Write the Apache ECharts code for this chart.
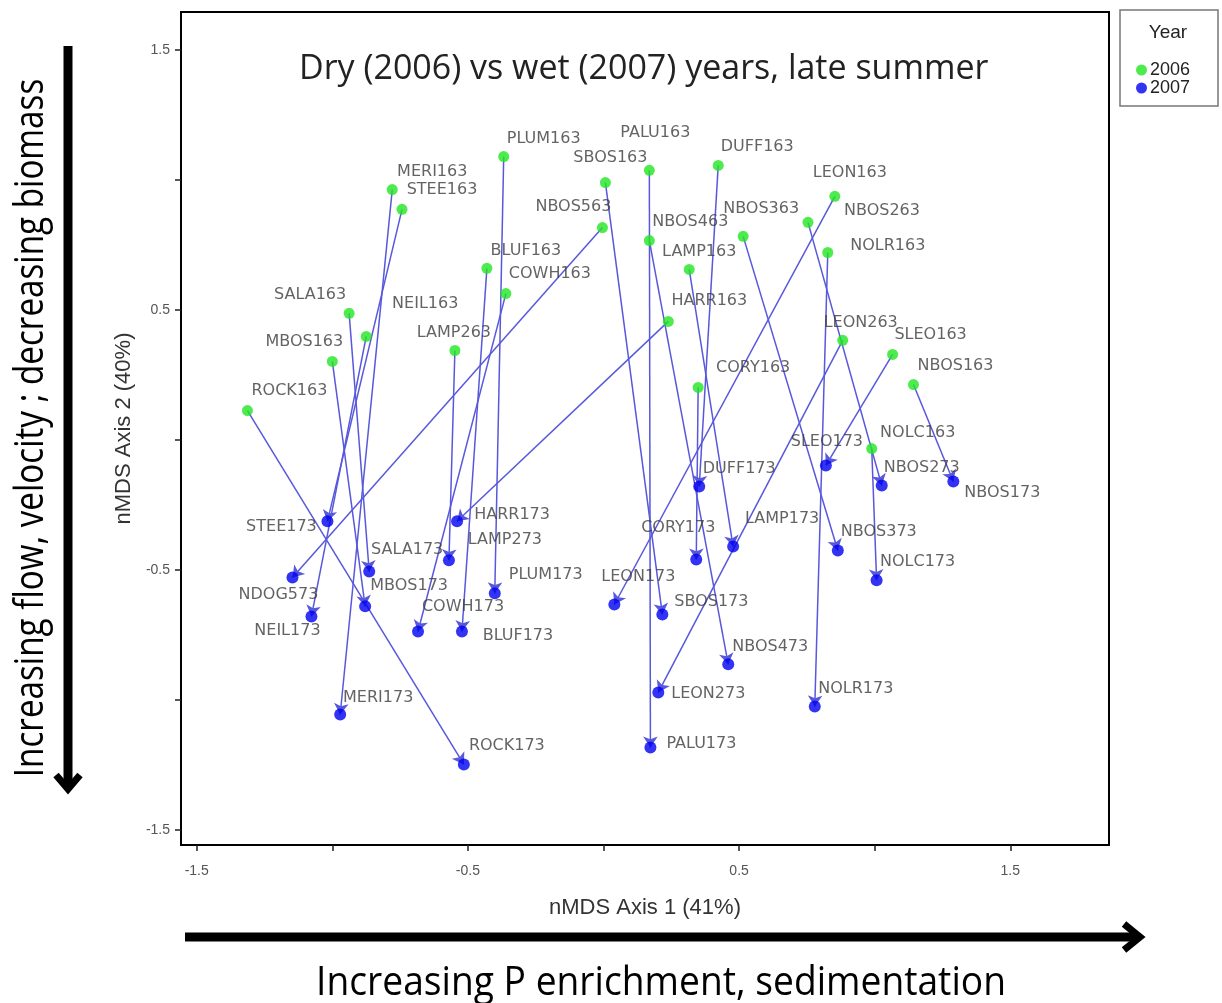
<!DOCTYPE html>
<html>
<head>
<meta charset="utf-8">
<script src="https://cdn.jsdelivr.net/npm/echarts@6/dist/echarts.min.js"></script>
<style>html,body{margin:0;padding:0;background:#fff;}#chart{width:1222px;height:1003px;}</style>
</head>
<body>
<div id="chart"></div>
<script>
// ---------- DATA ----------
const names2006 = ['ROCK163','MBOS163','SALA163','NEIL163','MERI163','STEE163','LAMP263','BLUF163','COWH163','PLUM163','NBOS563','SBOS163','PALU163','NBOS463','LAMP163','HARR163','CORY163','DUFF163','NBOS363','NBOS263','LEON163','NOLR163','LEON263','SLEO163','NBOS163','NOLC163'];
const x2006 = [-1.313,-1.000,-0.938,-0.875,-0.779,-0.743,-0.548,-0.430,-0.360,-0.368,-0.004,0.007,0.169,0.169,0.316,0.239,0.349,0.423,0.515,0.754,0.853,0.827,0.882,1.066,1.143,0.989];
const y2006 = [0.113,0.302,0.487,0.398,0.963,0.887,0.344,0.660,0.563,1.090,0.817,0.990,1.037,0.767,0.656,0.456,0.202,1.056,0.783,0.837,0.937,0.721,0.383,0.329,0.213,-0.033];
const names2007 = ['ROCK173','MBOS173','SALA173','NEIL173','MERI173','STEE173','LAMP273','BLUF173','COWH173','PLUM173','NDOG573','SBOS173','PALU173','NBOS473','LAMP173','HARR173','CORY173','DUFF173','NBOS373','NBOS273','LEON173','NOLR173','LEON273','SLEO173','NBOS173','NOLC173'];
const x2007 = [-0.515,-0.879,-0.864,-1.077,-0.971,-1.018,-0.570,-0.522,-0.684,-0.401,-1.147,0.217,0.173,0.460,0.478,-0.540,0.342,0.353,0.864,1.026,0.040,0.779,0.202,0.820,1.290,1.007];
const y2007 = [-1.248,-0.640,-0.506,-0.679,-1.056,-0.313,-0.463,-0.737,-0.737,-0.590,-0.529,-0.671,-1.183,-0.863,-0.410,-0.313,-0.460,-0.179,-0.425,-0.175,-0.633,-1.025,-0.971,-0.098,-0.160,-0.540];
const xTickValues = [-1.5,-1,-0.5,0,0.5,1,1.5];
const xTickLabels = [-1.5,-0.5,0.5,1.5];
const yTickValues = [-1.5,-1,-0.5,0,0.5,1,1.5];
const yTickLabels = [-1.5,-0.5,0.5,1.5];
const seriesNames = ['2006','2007'];

// ---------- LAYOUT (label offsets in px, not data) ----------
const labelOffsets = {
  ROCK163:[42,-20], MBOS163:[-28,-20], SALA163:[-39,-18], NEIL163:[59,-33], MERI163:[40,-18], STEE163:[40,-19],
  LAMP263:[-1,-18], BLUF163:[39,-18], COWH163:[44,-20], PLUM163:[40,-18], NBOS563:[-29,-21], SBOS163:[5,-25],
  PALU163:[6,-37], NBOS463:[41,-19], LAMP163:[10,-18], HARR163:[41,-21], CORY163:[55,-20], DUFF163:[39,-19],
  NBOS363:[18,-28], NBOS263:[74,-11], LEON163:[15,-23], NOLR163:[60,-7], LEON263:[18,-18], SLEO163:[38,-20],
  NBOS163:[42,-19], NOLC163:[46,-16],
  ROCK173:[43,-19], MBOS173:[44,-20], SALA173:[38,-22], NEIL173:[-24,14], MERI173:[38,-17], STEE173:[-46,6],
  LAMP273:[56,-20], BLUF173:[56,4], COWH173:[45,-25], PLUM173:[51,-18], NDOG573:[-14,17], SBOS173:[49,-13],
  PALU173:[51,-4], NBOS473:[42,-17], LAMP173:[49,-28], HARR173:[55,-6], CORY173:[-18,-32], DUFF173:[40,-18],
  NBOS373:[41,-19], NBOS273:[40,-18], LEON173:[24,-28], NOLR173:[41,-18], LEON273:[50,1], SLEO173:[1,-24],
  NBOS173:[49,11], NOLC173:[41,-18]
};

function pts(names, xs, ys) {
  return names.map((n, i) => ({
    name: n,
    value: [xs[i], ys[i]],
    label: { offset: labelOffsets[n] || [0, -18] }
  }));
}
const links = names2006.map((n, i) => ({ coords: [[x2006[i], y2006[i]], [x2007[i], y2007[i]]] }));

const labelStyle = {
  show: true, position: 'inside', formatter: '{b}',
  fontFamily: 'DejaVu Sans', fontSize: 16, color: '#3c3c3c', align: 'center', verticalAlign: 'middle'
};

const chart = echarts.init(document.getElementById('chart'), null, { renderer: 'canvas' });
chart.setOption({
  animation: false,
  backgroundColor: '#fff',
  title: {
    text: 'Dry (2006) vs wet (2007) years, late summer',
    left: 294, top: 47,
    textStyle: { fontFamily: 'Open Sans', fontSize: 34, fontWeight: 'normal', color: '#222' }
  },
  legend: {
    data: seriesNames,
    orient: 'vertical', left: 1131, top: 56, itemGap: 0,
    itemWidth: 11, itemHeight: 11, icon: 'circle',
    textStyle: { fontFamily: 'Liberation Sans', fontSize: 18, color: '#222', padding: [0,0,0,-2] }
  },
  grid: { left: 181, top: 12, right: 113, bottom: 158, show: true, borderColor: '#000', borderWidth: 2, backgroundColor: '#fff' },
  xAxis: {
    type: 'value', min: -1.558, max: 1.864,
    name: 'nMDS Axis 1 (41%)', nameLocation: 'middle', nameGap: 52,
    nameTextStyle: { fontFamily: 'Liberation Sans', fontSize: 22, color: '#333' },
    axisLine: { show: true, onZero: false, lineStyle: { color: '#000', width: 2 } },
    axisTick: { show: true, length: 6, customValues: xTickValues, lineStyle: { color: '#222', width: 1.5 } },
    axisLabel: { customValues: xTickLabels, margin: 19, fontFamily: 'Liberation Sans', fontSize: 14, color: '#555',
      formatter: v => (xTickLabels.some(t => Math.abs(t - v) < 1e-6) ? String(v) : '') },
    splitLine: { show: false }
  },
  yAxis: {
    type: 'value', min: -1.558, max: 1.646,
    name: 'nMDS Axis 2 (40%)', nameLocation: 'middle', nameGap: 42, nameRotate: 90,
    nameTextStyle: { fontFamily: 'Liberation Sans', fontSize: 22, color: '#333' },
    axisLine: { show: true, onZero: false, lineStyle: { color: '#000', width: 2 } },
    axisTick: { show: true, length: 6, customValues: yTickValues, lineStyle: { color: '#222', width: 1.5 } },
    axisLabel: { customValues: yTickLabels, margin: 11, fontFamily: 'Liberation Sans', fontSize: 14, color: '#555',
      formatter: v => (yTickLabels.some(t => Math.abs(t - v) < 1e-6) ? String(v) : '') },
    splitLine: { show: false }
  },
  series: [
    {
      type: 'lines', coordinateSystem: 'cartesian2d', z: 2,
      symbol: ['none', 'arrow'], symbolSize: [0, 11],
      lineStyle: { color: '#5858dc', width: 1.5, opacity: 1, curveness: 0 },
      data: links, silent: true
    },
    {
      name: '2006', type: 'scatter', z: 3, symbol: 'circle', symbolSize: 11,
      itemStyle: { color: '#22e622' },
      label: labelStyle,
      data: pts(names2006, x2006, y2006)
    },
    {
      name: '2007', type: 'scatter', z: 3, symbol: 'circle', symbolSize: 12,
      itemStyle: { color: '#0000f0' },
      label: labelStyle,
      data: pts(names2007, x2007, y2007)
    }
  ],
  graphic: [
    { type: 'rect', shape: { x: 1120, y: 10, width: 98, height: 96 }, style: { fill: 'none', stroke: '#777', lineWidth: 1.5 }, z: 10 },
    { type: 'text', x: 1168, y: 33, style: { text: 'Year', font: '19px "Liberation Sans"', fill: '#222', align: 'center', verticalAlign: 'middle' }, z: 10 },
    { type: 'polyline', shape: { points: [[185, 937], [1136, 937]] }, style: { stroke: '#000', lineWidth: 9 }, z: 10 },
    { type: 'polyline', shape: { points: [[1124, 924], [1140, 937], [1124, 950]] }, style: { stroke: '#000', lineWidth: 7, fill: 'none', lineJoin: 'miter' }, z: 10 },
    { type: 'polyline', shape: { points: [[68, 46], [68, 784]] }, style: { stroke: '#000', lineWidth: 9 }, z: 10 },
    { type: 'polyline', shape: { points: [[56, 775], [68, 789], [80, 775]] }, style: { stroke: '#000', lineWidth: 7, fill: 'none', lineJoin: 'miter' }, z: 10 },
    { type: 'text', x: 661, y: 984, scaleX: 0.93, style: { text: 'Increasing P enrichment, sedimentation', font: '40px "Open Sans"', fill: '#000', align: 'center', verticalAlign: 'middle' }, z: 10 },
    { type: 'text', x: 32, y: 428, rotation: Math.PI / 2, scaleX: 0.83, style: { text: 'Increasing flow, velocity ; decreasing biomass', font: '40px "Open Sans"', fill: '#000', align: 'center', verticalAlign: 'middle' }, z: 10 }
  ]
});
</script>
</body>
</html>
